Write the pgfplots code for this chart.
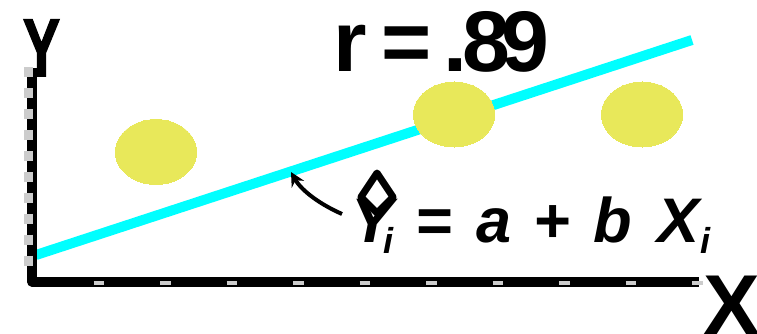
\documentclass[border=0pt]{standalone}
\usepackage{pgfplots}
\pgfplotsset{compat=1.18}
\usepackage{fontspec}
\setmainfont{Liberation Sans}
\usetikzlibrary{arrows.meta}
\definecolor{cyanline}{RGB}{0,255,255}
\definecolor{dotyellow}{RGB}{232,232,90}
\definecolor{tickgray}{RGB}{204,204,204}
\begin{document}
\begin{tikzpicture}
\begin{axis}[width=757pt,height=334pt,scale only axis,
  xmin=0,xmax=757,ymin=0,ymax=334,y dir=reverse,hide axis,clip=false]
% regression line
\addplot[cyanline,line width=10pt,line cap=butt] coordinates {(36,255)(692,40)};
% data points
\addplot[only marks,mark=*,mark size=32.5pt,draw=dotyellow,fill=dotyellow,
  mark options={draw=dotyellow,fill=dotyellow,line width=0pt,xscale=1.25}]
  coordinates {(156,152)(454,114.5)(642,114.5)};
% axes
\addplot[black,line width=10pt,line join=round,line cap=butt]
  coordinates {(32,68)(32,281.5)(699,281.5)};
\addplot[tickgray,line width=9pt,dash pattern=on 10pt off 10.9pt]
  coordinates {(28.5,67.5)(28.5,268)};
\addplot[tickgray,line width=4pt,dash pattern=on 10.5pt off 56pt]
  coordinates {(93.5,283)(704,283)};
% axis letters
\node[anchor=base,inner sep=0,font=\fontsize{82}{82}\selectfont\bfseries\addfontfeature{FakeBold=2},xscale=0.68]
  at (axis cs:41.5,76) {Y};
\node[anchor=base west,inner sep=0,font=\fontsize{85}{85}\selectfont\bfseries]
  at (axis cs:703,334) {X};
% r = .89
\begin{scope}[every node/.style={anchor=base,inner sep=0,font=\fontsize{86}{86}\selectfont\bfseries}]
\node at (axis cs:350,72) {r};
\node at (axis cs:406.5,72) {=};
\node at (axis cs:455,72) {.};
\node at (axis cs:486,72) {8};
\node at (axis cs:525,72) {9};
\end{scope}
% equation
\begin{scope}[every node/.style={anchor=base,inner sep=0,font=\fontsize{63}{63}\selectfont\bfseries\itshape}]
\node at (axis cs:373,242) {Y};
\node at (axis cs:433.5,242) {=};
\node at (axis cs:494,242) {a};
\node at (axis cs:551.5,242) {+};
\node at (axis cs:613,242) {b};
\node at (axis cs:679,242) {X};
\end{scope}
\node[anchor=base,inner sep=0,font=\fontsize{36}{36}\selectfont\bfseries\itshape] at (axis cs:388,253) {i};
\node[anchor=base,inner sep=0,font=\fontsize{36}{36}\selectfont\bfseries\itshape] at (axis cs:705,253) {i};
\draw[line width=7pt,line join=round] (axis cs:377,173) -- (axis cs:393,197) -- (axis cs:377,213) -- (axis cs:361,197) -- cycle;
\draw[line width=4pt,-{Stealth[length=14pt,width=14pt]}]
  (axis cs:342,214) .. controls (axis cs:315,202) and (axis cs:300,188) .. (axis cs:291,172);
\end{axis}
\pgfresetboundingbox
\path (current axis.south west) rectangle (current axis.north east);
\end{tikzpicture}
\end{document}
